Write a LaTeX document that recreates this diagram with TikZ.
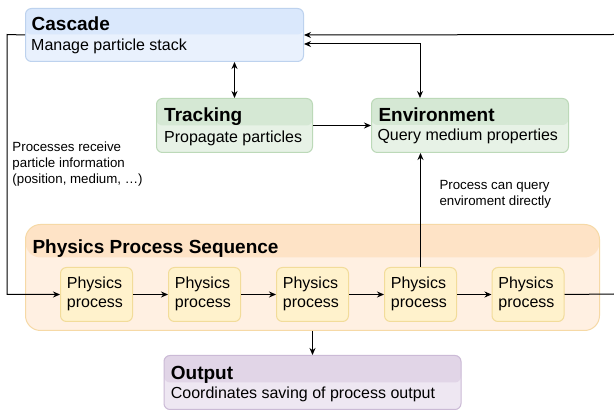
\documentclass[tikz,border=0pt]{standalone}
\usepackage{fontspec}
\setmainfont{Liberation Sans}
\usetikzlibrary{arrows.meta}
\definecolor{blueH}{HTML}{DAE8FC}
\definecolor{blueB}{HTML}{E9F1FD}
\definecolor{blueS}{HTML}{BDD2EE}
\definecolor{greenH}{HTML}{D5E8D4}
\definecolor{greenB}{HTML}{E7F2E6}
\definecolor{greenS}{HTML}{BCD9B8}
\definecolor{orangeH}{HTML}{FEE3C6}
\definecolor{orangeB}{HTML}{FFF0E2}
\definecolor{orangeS}{HTML}{F6D9A6}
\definecolor{yellowF}{HTML}{FFF2CC}
\definecolor{yellowS}{HTML}{F2DC9A}
\definecolor{purpleH}{HTML}{E1D5E7}
\definecolor{purpleB}{HTML}{EEE7F2}
\definecolor{purpleS}{HTML}{CBBAD6}
\tikzset{
  swim/.style n args={4}{draw=#3, fill=#2, line width=1pt, rounded corners=6pt,
    inner sep=0pt, anchor=north west,
    path picture={\fill[#1] (path picture bounding box.north west) rectangle ([yshift=-#4]path picture bounding box.north east);}},
  procbox/.style={draw=yellowS, fill=yellowF, line width=1pt, rounded corners=6pt,
    inner sep=0pt, anchor=north west, minimum width=72pt, minimum height=54pt},
  hdr/.style={anchor=base west, inner sep=0pt, font=\fontsize{19}{22}\selectfont\bfseries},
  body/.style={anchor=base west, inner sep=0pt, font=\fontsize{16}{19}\selectfont},
  lab/.style={anchor=base west, inner sep=0pt, font=\fontsize{13.3}{16}\selectfont},
  arr/.style={-{Stealth[length=7pt,width=6pt]}, line width=1pt},
  darr/.style={{Stealth[length=7pt,width=6pt]}-{Stealth[length=7pt,width=6pt]}, line width=1pt},
  ln/.style={line width=1pt}
}
\begin{document}
\begin{tikzpicture}[x=1pt,y=-1pt]
\useasboundingbox[fill=white] (0,0) rectangle (614,414);

% Cascade
\node[swim={blueH}{blueB}{blueS}{26pt}, minimum width=278pt, minimum height=53pt] (cas) at (25,8) {};
\node[hdr] (cast) at (31.5,30.5) {Cascade};
\node[body] (casb) at (31,51) {Manage particle stack};

% Tracking
\node[swim={greenH}{greenB}{greenS}{27pt}, minimum width=156pt, minimum height=54pt] (trk) at (156,98) {};
\node[hdr] (trkt) at (164,121.7) {Tracking};
\node[body] (trkb) at (164,142.3) {Propagate particles};

% Environment
\node[swim={greenH}{greenB}{greenS}{26.5pt}, minimum width=197pt, minimum height=54pt] (env) at (371,98) {};
\node[hdr] (envt) at (378.3,121.7) {Environment};
\node[body] (envb) at (377.3,140.5) {Query medium properties};

% Physics Process Sequence
\node[swim={orangeH}{orangeB}{orangeS}{33pt}, minimum width=574pt, minimum height=106pt, rounded corners=15pt] (seq) at (25,224) {};
\node[hdr] (seqt) at (32.3,253.3) {Physics Process Sequence};

% processes
\foreach \i/\x in {1/60,2/168,3/276,4/384,5/491.5}{
  \node[procbox] (p\i) at (\x,267) {};
  \node[body] (p\i a) at (\x+6.7,289) {Physics};
  \node[body] (p\i b) at (\x+6.7,307.3) {process};
}

% Output
\node[swim={purpleH}{purpleB}{purpleS}{27pt}, minimum width=297pt, minimum height=54pt] (out) at (163.5,355) {};
\node[hdr] (outt) at (170.7,379.3) {Output};
\node[body] (outb) at (170.7,398.3) {Coordinates saving of process output};

% labels
\node[lab] (la1) at (12.3,151.3) {Processes receive};
\node[lab] (la2) at (12.3,167.3) {particle information};
\node[lab] (la3) at (12.3,183.3) {(position, medium, …)};
\node[lab] (lb1) at (439.3,189.3) {Process can query};
\node[lab] (lb2) at (439.3,205.3) {enviroment directly};

% connectors
\coordinate (lc) at (7,34.5);
\coordinate (rtop) at (614,34.5);
\coordinate (rbot) at (614,294);
\draw[arr] (cas.west) -- (lc) |- (p1.west);
\draw[arr] (rtop) -- (cas.east);
\draw[ln] (p5.east) -- (rbot);
\draw[darr] (trk.north) -- (trk.north |- cas.south);
\draw[arr] (trk.east) -- (env.west);
\coordinate (envtop) at (420,98);
\draw[darr] ([yshift=-9pt]cas.east) -| (envtop);
\draw[arr] (p4.north) -- (p4.north |- env.south);
\draw[arr] (p1.east) -- (p2.west);
\draw[arr] (p2.east) -- (p3.west);
\draw[arr] (p3.east) -- (p4.west);
\draw[arr] (p4.east) -- (p5.west);
\draw[arr] (seq.south) -- (out.north);
\end{tikzpicture}
\end{document}
